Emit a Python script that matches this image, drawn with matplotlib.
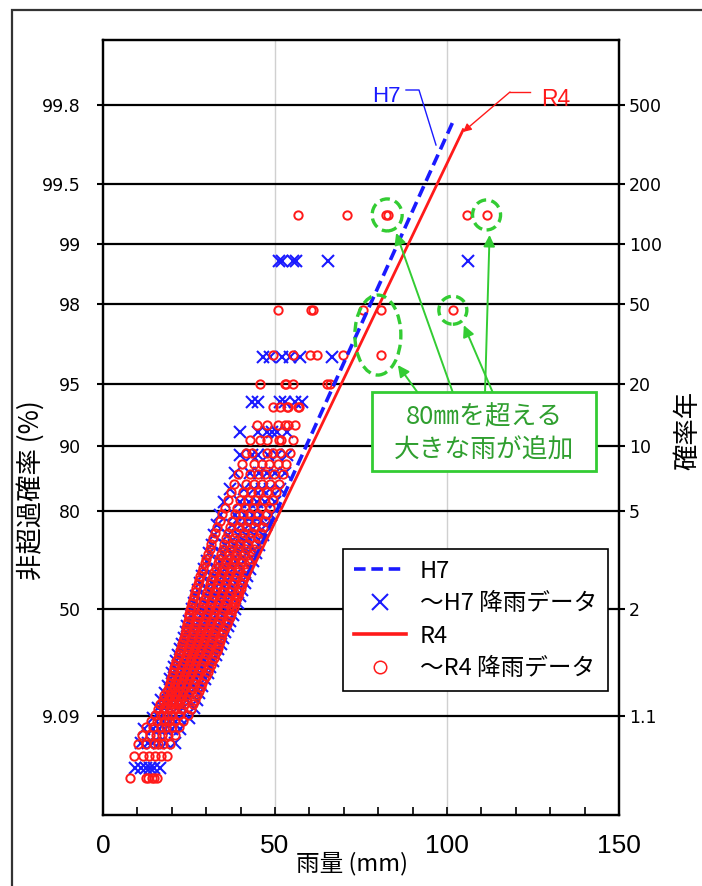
import numpy as np
import matplotlib
matplotlib.use("Agg")
import matplotlib.pyplot as plt
import matplotlib.transforms as mtransforms
from matplotlib.patches import Ellipse, Rectangle
from matplotlib.lines import Line2D

# ---------------- data ----------------
prob_ticks = [9.09, 50, 80, 90, 95, 98, 99, 99.5, 99.8]
prob_labels = ["9.09", "50", "80", "90", "95", "98", "99", "99.5", "99.8"]
return_labels = ["1.1", "2", "5", "10", "20", "50", "100", "200", "500"]
x_ticks = [0, 50, 100, 150]

# annual maxima (mm) per rank (lowest rank first), up to H7
h7_rows = [
    [9.4, 11.0, 12.4, 13.6, 14.8, 16.6],
    [11.0, 13.0, 14.6, 16.2, 18.4, 21.0],
    [12.0, 14.5, 16.4, 18.0, 20.0, 22.4],
    [14.5, 16.5, 18.2, 20.0, 22.0, 25.0],
    [16.0, 17.8, 19.6, 21.4, 23.4, 26.5],
    [17.0, 18.8, 20.6, 22.4, 24.4, 27.2],
    [18.0, 19.8, 21.5, 23.3, 25.4, 28.0],
    [18.8, 20.6, 22.4, 24.2, 26.3, 28.8],
    [19.4, 21.4, 23.2, 25.0, 27.1, 29.6],
    [20.0, 22.1, 23.9, 25.8, 27.9, 30.4],
    [20.6, 22.8, 24.6, 26.5, 28.6, 31.2],
    [21.2, 23.5, 25.3, 27.2, 29.4, 32.0],
    [21.8, 24.1, 26.0, 27.9, 30.1, 32.8],
    [22.4, 24.8, 26.7, 28.6, 30.8, 33.5],
    [23.0, 25.4, 27.4, 29.3, 31.5, 34.2],
    [23.5, 26.0, 28.0, 30.0, 32.2, 34.9],
    [24.0, 26.6, 28.7, 30.7, 32.9, 35.6],
    [24.5, 27.2, 29.3, 31.4, 33.6, 36.3],
    [25.0, 27.8, 30.0, 32.1, 34.3, 37.0],
    [25.5, 28.4, 30.6, 32.8, 35.0, 37.7],
    [26.0, 29.0, 31.3, 33.5, 35.7, 38.4],
    [26.5, 29.6, 32.0, 34.2, 36.4, 39.1],
    [27.0, 30.2, 32.7, 34.9, 37.1, 39.8],
    [27.6, 30.9, 33.4, 35.6, 37.8, 40.5],
    [28.2, 31.6, 34.1, 36.3, 38.6, 41.2],
    [28.8, 32.3, 34.8, 37.1, 39.4, 42.0],
    [29.5, 33.1, 35.6, 37.9, 40.2, 42.8],
    [30.2, 33.9, 36.4, 38.7, 41.0, 43.6],
    [30.9, 34.7, 37.3, 39.6, 41.9, 44.5],
    [31.6, 35.5, 38.2, 40.5, 42.8, 45.4],
    [32.4, 36.4, 39.1, 41.5, 43.8, 46.4],
    [33.2, 37.4, 40.1, 42.5, 44.9, 47.5],
    [34.1, 38.5, 41.2, 43.6, 46.0, 48.7],
    [35.2, 39.7, 42.4, 44.8, 47.2, 50.0],
    [36.8, 41.0, 43.8, 46.2, 48.6, 51.4],
    [38.4, 42.6, 45.3, 47.6, 50.1, 52.8],
    [39.8, 43.3, 45.0, 48.0, 50.5, 53.5],
    [39.8, 45.1, 47.7, 49.1, 50.5, 53.5],
    [43.3, 45.1, 51.5, 52.9, 55.8, 57.8],
    [46.5, 48.5, 52.0, 54.5, 57.3, 66.6],
    [51.2, 52.0, 55.3, 56.0, 65.3, 106.1],
]

# annual maxima (mm) per rank (lowest rank first), up to R4
r4_rows = [
    [7.8, 12.6, 13.2, 14.2, 14.8, 15.7],
    [9.0, 11.5, 13.5, 15.0, 16.8, 18.5],
    [10.3, 12.5, 14.8, 16.0, 17.5, 19.6],
    [11.2, 13.8, 15.5, 17.2, 19.0, 21.0],
    [12.4, 14.6, 16.8, 18.2, 20.0, 22.0],
    [14.0, 15.8, 17.6, 19.2, 21.0, 23.4],
    [15.2, 17.0, 18.5, 20.2, 22.0, 24.6],
    [16.0, 17.6, 19.4, 21.0, 22.8, 25.5],
    [16.6, 18.4, 20.0, 21.8, 23.5, 26.2],
    [17.3, 19.0, 20.6, 22.4, 24.2, 26.8],
    [17.8, 19.6, 21.2, 22.9, 24.8, 27.4],
    [18.6, 20.0, 21.8, 23.4, 25.2, 27.9],
    [19.1, 20.6, 22.3, 24.0, 25.8, 28.4],
    [19.4, 21.0, 22.8, 24.5, 26.3, 28.8],
    [19.7, 21.5, 23.2, 25.0, 26.8, 29.4],
    [20.0, 22.0, 23.6, 25.4, 27.2, 29.9],
    [20.3, 22.4, 24.0, 25.9, 27.7, 30.5],
    [20.6, 22.8, 24.5, 26.3, 28.1, 30.9],
    [21.0, 23.2, 24.9, 26.6, 28.6, 31.3],
    [21.3, 23.6, 25.3, 27.0, 29.0, 31.8],
    [21.7, 24.0, 25.7, 27.4, 29.4, 32.2],
    [22.0, 24.3, 26.1, 27.8, 29.8, 32.6],
    [22.3, 24.6, 26.4, 28.2, 30.2, 33.0],
    [22.6, 25.0, 26.8, 28.6, 30.6, 33.3],
    [22.9, 25.3, 27.2, 29.0, 31.0, 33.6],
    [23.2, 25.6, 27.5, 29.3, 31.3, 34.0],
    [23.5, 25.9, 27.9, 29.7, 31.7, 34.3],
    [23.7, 26.2, 28.2, 30.0, 32.0, 34.7],
    [24.0, 26.5, 28.5, 30.4, 32.4, 35.0],
    [24.2, 26.8, 28.9, 30.8, 32.8, 35.5],
    [24.4, 27.1, 29.2, 31.1, 33.2, 36.0],
    [24.6, 27.4, 29.6, 31.5, 33.6, 36.4],
    [24.9, 27.7, 29.9, 31.9, 34.0, 36.8],
    [25.1, 28.0, 30.3, 32.3, 34.4, 37.2],
    [25.3, 28.4, 30.7, 32.7, 34.8, 37.6],
    [25.6, 28.7, 31.0, 33.1, 35.2, 38.0],
    [25.9, 29.1, 31.4, 33.5, 35.6, 38.4],
    [26.2, 29.5, 31.8, 33.9, 36.0, 38.8],
    [26.5, 29.9, 32.2, 34.3, 36.4, 39.2],
    [26.8, 30.3, 32.6, 34.7, 36.9, 39.6],
    [27.1, 30.7, 33.0, 35.1, 37.3, 40.0],
    [27.5, 31.1, 33.5, 35.6, 37.7, 40.4],
    [27.9, 31.5, 33.9, 36.0, 38.1, 40.8],
    [28.3, 31.9, 34.3, 36.4, 38.6, 41.2],
    [28.7, 32.4, 34.8, 36.9, 39.0, 41.6],
    [29.1, 32.8, 35.2, 37.3, 39.5, 42.0],
    [29.6, 33.3, 35.7, 37.8, 40.0, 42.5],
    [30.0, 33.8, 36.2, 38.3, 40.5, 43.0],
    [30.5, 34.3, 36.7, 38.8, 41.0, 43.5],
    [31.0, 34.8, 37.2, 39.3, 41.5, 44.0],
    [31.5, 35.3, 37.7, 39.8, 42.0, 44.6],
    [32.0, 35.8, 38.2, 40.3, 42.6, 45.2],
    [32.6, 36.4, 38.8, 40.9, 43.2, 45.8],
    [33.2, 37.0, 39.4, 41.5, 43.8, 46.4],
    [33.9, 37.6, 40.0, 42.1, 44.5, 47.1],
    [34.6, 38.3, 40.7, 42.8, 45.2, 47.8],
    [35.4, 39.0, 41.4, 43.5, 46.0, 48.6],
    [36.2, 39.8, 42.2, 44.3, 46.8, 49.4],
    [37.1, 40.6, 43.0, 45.1, 47.6, 50.3],
    [38.0, 41.5, 44.0, 46.1, 48.6, 51.2],
    [39.2, 42.6, 45.1, 47.2, 49.7, 52.2],
    [40.4, 43.8, 46.3, 48.4, 50.8, 53.2],
    [41.5, 43.3, 47.7, 49.4, 51.5, 54.3],
    [42.7, 45.5, 47.7, 51.3, 51.6, 55.2],
    [44.8, 47.7, 50.9, 52.9, 53.8, 55.8],
    [49.4, 51.5, 53.5, 53.8, 56.7, 56.9],
    [45.6, 52.9, 53.2, 55.2, 65.1, 66.0],
    [49.4, 55.2, 60.2, 62.2, 69.8, 80.8],
    [50.9, 60.6, 61.0, 75.6, 80.8, 101.7],
    [56.7, 70.9, 82.4, 82.8, 105.8, 111.5],
]

# fitted Gumbel lines (rainfall mm, non-exceedance %)
h7_line_x = [42.0, 101.7]
h7_line_p = [62.3, 99.757]
r4_line_x = [37.5, 104.7]
r4_line_p = [48.7, 99.734]

# highlighted R4 points (mm, non-exceedance %) for green circles
hl_rain = [82.6, 111.5, 101.7, 79.9]
hl_prob = [99.286, 99.286, 97.857, 97.15]


def plotting_positions(rows):
    n = len(rows)
    xs, ps = [], []
    for i, row in enumerate(rows, start=1):
        p = 100.0 * (i - 0.5) / n  # Hazen
        for x in row:
            xs.append(x)
            ps.append(p)
    return np.array(xs), np.array(ps)


def fwd(p):
    q = np.clip(np.asarray(p, dtype=float) / 100.0, 1e-12, 1 - 1e-12)
    return -np.log(-np.log(q))


def inv(v):
    return 100.0 * np.exp(-np.exp(-np.asarray(v, dtype=float)))


# ---------------- figure ----------------
W, H = 702, 886
fig = plt.figure(figsize=(W / 100, H / 100), dpi=100)
fig.patch.set_facecolor("white")
L, R, T, B = 103, 619, 40, 815
ax = fig.add_axes([L / W, 1 - B / H, (R - L) / W, (B - T) / H])

cjk = ["Noto Sans CJK JP", "DejaVu Sans"]
num_font = ["DejaVu Sans"]
lab_font = ["Liberation Sans", "DejaVu Sans"]
blue = "#1a1aff"
red = "#ff1a1a"
green = "#33cc33"

ax.set_yscale("function", functions=(fwd, inv))
ax.set_xlim(0, 150)
ax.set_ylim(inv(-2.03), inv(6.97))

hx, hp = plotting_positions(h7_rows)
rx, rp = plotting_positions(r4_rows)

ax.plot(h7_line_x, h7_line_p, color=blue, lw=2.6, ls=(0, (3.2, 1.6)), zorder=5)
ax.plot(hx, hp, ls="none", marker="x", ms=8, mew=1.5, color=blue, zorder=3)
ax.plot(r4_line_x, r4_line_p, color=red, lw=2.0, zorder=5)
ax.plot(rx, rp, ls="none", marker="o", ms=6, mew=1.4, mfc="none", mec=red, zorder=4)

# grid / ticks
ax.set_yticks(prob_ticks)
ax.set_yticklabels(prob_labels)
ax.yaxis.set_minor_locator(matplotlib.ticker.NullLocator())
for p in prob_ticks:
    ax.axhline(p, color="black", lw=1.6, zorder=1)
for xv in [50, 100]:
    ax.axvline(xv, color="#d0d0d0", lw=1.0, zorder=0)
ax.set_xticks(x_ticks)
ax.set_xticklabels([str(v) for v in x_ticks])
ax.set_xticks(np.arange(10, 150, 10), minor=True)
ax.xaxis.set_ticks_position("bottom")
ax.tick_params(axis="x", which="both", direction="in", length=6, width=1.2,
               pad=14, labelsize=19, top=False, labeltop=False)
ax.tick_params(axis="y", which="major", direction="out", length=4, width=1.5,
               pad=12, labelsize=12.5)
for lbl in ax.get_xticklabels():
    lbl.set_fontfamily(["Liberation Sans Narrow", "Liberation Sans"])
for lbl in ax.get_yticklabels():
    lbl.set_fontfamily(num_font)
for s in ax.spines.values():
    s.set_linewidth(1.6)

ax2 = ax.twinx()
ax2.set_yscale("function", functions=(fwd, inv))
ax2.set_ylim(ax.get_ylim())
ax2.set_yticks(prob_ticks)
ax2.set_yticklabels(return_labels)
ax2.yaxis.set_minor_locator(matplotlib.ticker.NullLocator())
ax2.tick_params(axis="y", direction="out", length=4, width=1.5, pad=3, labelsize=12.5)
ax2.tick_params(axis="x", which="both", top=False, bottom=False,
                labeltop=False, labelbottom=False)
for lbl in ax2.get_yticklabels():
    lbl.set_fontfamily(num_font)
    lbl.set_va("center_baseline")
for s in ax2.spines.values():
    s.set_linewidth(1.6)

# axis labels
fig.text(352 / W, 1 - 864 / H, "雨量 (mm)", ha="center", va="center",
         fontsize=17, family=cjk)
fig.text(31 / W, 1 - 490 / H, "非超過確率 (%)", ha="center", va="center",
         rotation=90, fontsize=19, family=cjk)
fig.text(688 / W, 1 - 430 / H, "確率年", ha="center", va="center",
         rotation=90, fontsize=19, family=cjk)

# outer frame
fig.patches.append(Rectangle((12 / W, -0.2), 2.0, 1 - 10 / H + 0.2,
                             transform=fig.transFigure, fill=False,
                             lw=1.6, edgecolor="#333333"))

# legend
handles = [
    Line2D([], [], color=blue, lw=2.6, ls=(0, (3.2, 1.6))),
    Line2D([], [], ls="none", marker="x", ms=8, mew=1.5, color=blue),
    Line2D([], [], color=red, lw=2.6),
    Line2D([], [], ls="none", marker="o", ms=6, mew=1.1, mfc="none", mec=red),
]
labels = ["H7", "～H7 降雨データ", "R4", "～R4 降雨データ"]
leg = ax.legend(handles, labels, loc="upper left",
                bbox_to_anchor=((343 - L) / (R - L), (B - 549) / (B - T)),
                prop={"family": cjk, "size": 17}, frameon=True, fancybox=False,
                edgecolor="black", framealpha=1, borderpad=0.45,
                labelspacing=0.4, handlelength=2.2, handletextpad=0.6,
                markerscale=1.5, borderaxespad=0)
leg.get_frame().set_linewidth(1.2)
leg.set_zorder(6)


def fx(px):
    return (px - L) / (R - L)


def fy(py):
    return (B - py) / (B - T)


# H7 / R4 labels with leaders
ax.text(fx(386), fy(96), "H7", color=blue, fontsize=16, ha="center", va="center",
        family=lab_font, zorder=7, transform=ax.transAxes)
ax.plot([fx(406), fx(419), fx(436)], [fy(90), fy(90), fy(145)], color=blue, lw=1.0,
        transform=ax.transAxes, clip_on=False, zorder=7)
ax.text(fx(556), fy(99), "R4", color=red, fontsize=16.5, ha="center", va="center",
        family=lab_font, zorder=7, transform=ax.transAxes)
ax.plot([fx(530), fx(510)], [fy(92), fy(92)], color=red, lw=1.0,
        transform=ax.transAxes, clip_on=False, zorder=7)
ax.annotate("", xy=(fx(463), fy(132)), xycoords="axes fraction",
            xytext=(fx(510), fy(92)), textcoords="axes fraction",
            arrowprops=dict(arrowstyle="-|>", color=red, lw=1.0,
                            mutation_scale=12, shrinkA=0, shrinkB=0), zorder=7)

# green dashed circles around new large events
ell_sizes = [(30, 32), (28, 30), (28, 28), (46, 80)]
head_offsets = [(9, -18), (3, -20), (11, -15), (20, -30)]
tails = [(453, 393), (485, 393), (493, 393), (418, 393)]
for (xv, pv), (w, h), (dx, dy), (tx, ty) in zip(zip(hl_rain, hl_prob), ell_sizes,
                                                head_offsets, tails):
    trans = fig.dpi_scale_trans + mtransforms.ScaledTranslation(xv, pv, ax.transData)
    e = Ellipse((0, 0), w / 100, h / 100, transform=trans, fill=False,
                edgecolor=green, lw=2.4, ls=(0, (3, 1.6)), zorder=8, clip_on=False)
    ax.add_artist(e)
    ax.annotate("", xy=(dx / 100, dy / 100), xycoords=trans,
                xytext=(fx(tx), fy(ty)), textcoords="axes fraction",
                arrowprops=dict(arrowstyle="-|>", color=green, lw=1.4,
                                mutation_scale=17, shrinkA=0, shrinkB=0), zorder=8)

# annotation box
ax.add_patch(Rectangle((fx(372), fy(471)), fx(596) - fx(372), fy(392) - fy(471),
                       transform=ax.transAxes, facecolor="white", edgecolor=green,
                       lw=2.0, zorder=9))
ax.text(fx(484), fy(417), "80㎜を超える", color="#2f9f2f", fontsize=18.5,
        ha="center", va="center", family=cjk, transform=ax.transAxes, zorder=10)
ax.text(fx(484), fy(451), "大きな雨が追加", color="#2f9f2f", fontsize=18.5,
        ha="center", va="center", family=cjk, transform=ax.transAxes, zorder=10)

fig.savefig("out.png", dpi=100, facecolor="white")
